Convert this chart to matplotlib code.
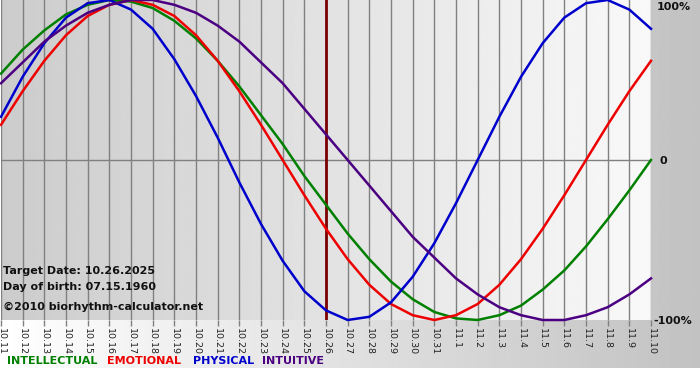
import numpy as np
import matplotlib
matplotlib.use('Agg')
import matplotlib.pyplot as plt

# dates on the x axis (10.11 .. 11.10)
dates = ['10.%d' % d for d in range(11, 32)] + ['11.%d' % d for d in range(1, 11)]
target_idx = dates.index('10.26')

# daily values (-1 .. 1)
physical = [0.27, 0.52, 0.73, 0.89, 0.98, 1.00, 0.94, 0.82, 0.63, 0.40, 0.14, -0.14, -0.40,
            -0.63, -0.82, -0.94, -1.00, -0.98, -0.89, -0.73, -0.52, -0.27, 0.00, 0.27, 0.52,
            0.73, 0.89, 0.98, 1.00, 0.94, 0.82]
emotional = [0.22, 0.43, 0.62, 0.78, 0.90, 0.97, 1.00, 0.97, 0.90, 0.78, 0.62, 0.43, 0.22,
             0.00, -0.22, -0.43, -0.62, -0.78, -0.90, -0.97, -1.00, -0.97, -0.90, -0.78,
             -0.62, -0.43, -0.22, 0.00, 0.22, 0.43, 0.62]
intellectual = [0.54, 0.69, 0.81, 0.91, 0.97, 1.00, 0.99, 0.95, 0.87, 0.76, 0.62, 0.46, 0.28,
                0.10, -0.10, -0.28, -0.46, -0.62, -0.76, -0.87, -0.95, -0.99, -1.00, -0.97,
                -0.91, -0.81, -0.69, -0.54, -0.37, -0.19, 0.00]
intuitive = [0.48, 0.61, 0.74, 0.84, 0.92, 0.97, 1.00, 1.00, 0.97, 0.92, 0.84, 0.74, 0.61,
             0.48, 0.32, 0.16, 0.00, -0.16, -0.32, -0.48, -0.61, -0.74, -0.84, -0.92, -0.97,
             -1.00, -1.00, -0.97, -0.92, -0.84, -0.74]

series = [('INTELLECTUAL', intellectual, '#008000'),
          ('EMOTIONAL', emotional, '#ee0000'),
          ('PHYSICAL', physical, '#0000cc'),
          ('INTUITIVE', intuitive, '#4b0082')]

W, H = 700, 380
fig = plt.figure(figsize=(W / 100, H / 100), dpi=100)

# page background: white -> gray, ending above the legend row
bg = fig.add_axes([0, 0, 1, 1])
bg.set_axis_off()
grad = np.linspace(1.0, 0.76, 256)
bg.imshow(np.tile(grad, (2, 1)), cmap='gray', vmin=0, vmax=1, aspect='auto',
          extent=[0, W, H - 368, H], interpolation='bilinear')
bg.set_xlim(0, W)
bg.set_ylim(0, H)

# plot area
ax = fig.add_axes([1 / W, 60 / H, 650 / W, 320 / H])
x = np.arange(len(dates))
ax.imshow(np.tile(np.linspace(0.80, 0.975, 256), (2, 1)), cmap='gray', vmin=0, vmax=1,
          aspect='auto', extent=[0, len(dates) - 1, -1, 1], interpolation='bilinear', zorder=0)
ax.set_xlim(0, len(dates) - 1)
ax.set_ylim(-1, 1)

for xi in x:
    ax.axvline(xi, color='#808080', lw=1, zorder=1)
ax.axhline(0, color='#808080', lw=1, zorder=1)
ax.axvline(target_idx, color='#7a0000', lw=2, zorder=2)

for name, vals, col in series:
    ax.plot(x, vals, color=col, lw=1.8, zorder=3, clip_on=False)

for s in ax.spines.values():
    s.set_visible(False)
ax.set_yticks([])
ax.set_xticks(x)
ax.set_xticklabels(dates, rotation=270, fontsize=6.8, color='#222222')
ax.tick_params(axis='x', length=4, width=1, color='#808080', pad=2)

# info text
info_kw = dict(fontsize=8, fontweight='bold', color='#111111', va='center', ha='left')
fig.text(3 / W, 1 - 271 / H, 'Target Date: 10.26.2025', **info_kw)
fig.text(3 / W, 1 - 287 / H, 'Day of birth: 07.15.1960', **info_kw)
fig.text(3 / W, 1 - 307 / H, '\u00a92010 biorhythm-calculator.net', **info_kw)

# right scale labels
scale_kw = dict(fontsize=8, fontweight='bold', color='#111111', va='center', ha='left')
fig.text(657 / W, 1 - 7 / H, '100%', **scale_kw)
fig.text(659 / W, 1 - 161 / H, '0', **scale_kw)
fig.text(653 / W, 1 - 321 / H, '-100%', **scale_kw)

# legend row
lx = [7, 107, 193, 262]
for (name, vals, col), px in zip(series, lx):
    fig.text(px / W, 1 - 361 / H, name, fontsize=8, fontweight='bold', color=col,
             va='center', ha='left')

fig.savefig('out.png', dpi=100)
